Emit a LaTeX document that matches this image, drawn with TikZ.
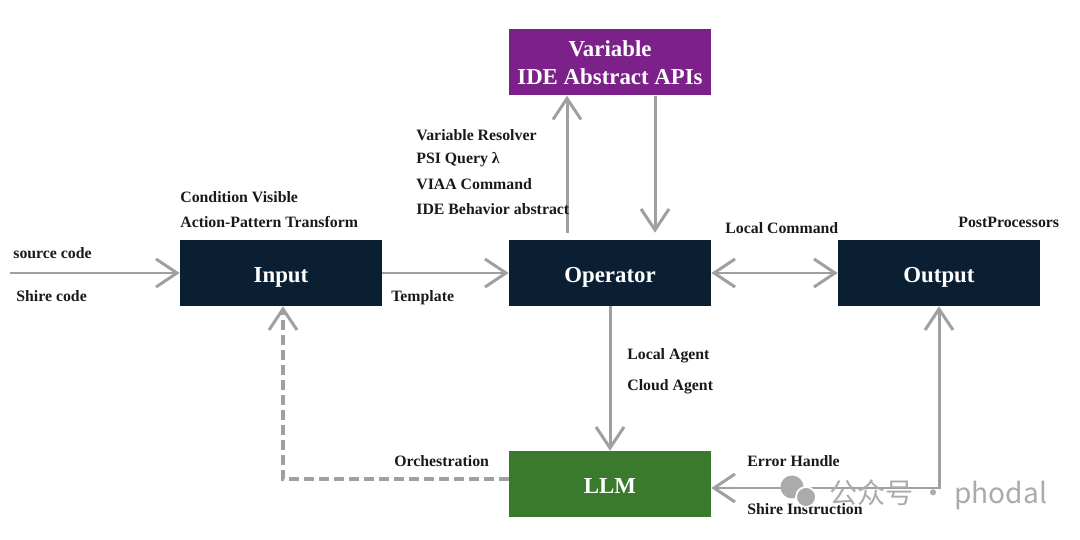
\documentclass[tikz,border=0pt]{standalone}
\usepackage{fontspec}
\usetikzlibrary{positioning,arrows.meta}
\setmainfont{Liberation Serif}
\newfontfamily\cjkfont{Noto Sans CJK SC}
\definecolor{navybox}{HTML}{0B1F33}
\definecolor{purplebox}{HTML}{7B2189}
\definecolor{greenbox}{HTML}{3A7A2C}
\definecolor{arrowgray}{HTML}{A0A0A0}
\definecolor{markgray}{HTML}{ABABAB}
\begin{document}
\begin{tikzpicture}[font=\bfseries\fontsize{9}{11}\selectfont,box/.style={minimum width=4.04cm,minimum height=1.32cm,align=center,text=white,inner sep=2pt,text height=1.05em,text depth=0pt,font=\bfseries\fontsize{13}{15}\selectfont},lbl/.style={anchor=west,inner sep=0pt,text=black!90},link/.style={draw=arrowgray,line width=1.7pt,-{Straight Barb[length=4.2mm,width=5.6mm,line width=1.7pt]}}]
\useasboundingbox (0,0) rectangle (21.6,10.8);
% boxes
\node[box,fill=navybox] (input) at (5.62,5.34) {Input};
\node[box,fill=navybox] (operator) at (12.2,5.34) {Operator};
\node[box,fill=navybox] (output) at (18.78,5.34) {Output};
\node[box,fill=purplebox,text height=,text depth=,font=\bfseries\fontsize{13}{16}\selectfont] (variable) at (12.2,9.55) {Variable\\IDE Abstract APIs};
\node[box,fill=greenbox] (llm) at (12.2,1.12) {LLM};
\coordinate (src) at (0.2,5.34);
% connectors
\foreach \a/\b in {src/input,input/operator,operator/llm}{\draw[link] (\a) -- (\b);}
\draw[link] ([xshift=-0.86cm,yshift=0.14cm]operator.north) -- ([xshift=-0.86cm]variable.south);
\draw[link] ([xshift=0.9cm]variable.south) -- ([xshift=0.9cm,yshift=0.14cm]operator.north);
\draw[link,{Straight Barb[length=4.2mm,width=5.6mm,line width=1.7pt]}-{Straight Barb[length=4.2mm,width=5.6mm,line width=1.7pt]}] (operator) -- (output);
\draw[link,line width=2pt,dash pattern=on 0.2cm off 0.1cm] ([yshift=0.1cm]llm.west) -| ([xshift=0.04cm]input.south);
\draw[link,{Straight Barb[length=4.2mm,width=5.6mm,line width=1.7pt]}-{Straight Barb[length=4.2mm,width=5.6mm,line width=1.7pt]}] ([yshift=-0.08cm]llm.east) -| (output.south);
% labels
\node[lbl] (condvis) at (3.6,6.86) {Condition Visible};
\node[lbl] (actpat) at (3.6,6.36) {Action-Pattern Transform};
\node[lbl] (srccode) at (0.26,5.74) {source code};
\node[lbl] (shirecode) at (0.32,4.88) {Shire code};
\node[lbl] (template) at (7.82,4.84) {Template};
\node[lbl] (varres) at (8.32,8.1) {Variable Resolver};
\node[lbl] (psiq) at (8.32,7.6) {PSI Query λ};
\node[lbl] (viaa) at (8.32,7.12) {VIAA Command};
\node[lbl] (idebeh) at (8.32,6.62) {IDE Behavior abstract};
\node[lbl] (localcmd) at (14.5,6.24) {Local Command};
\node[lbl] (postproc) at (19.16,6.36) {PostProcessors};
\node[lbl] (localag) at (12.54,3.68) {Local Agent};
\node[lbl] (cloudag) at (12.54,3.06) {Cloud Agent};
\node[lbl] (orch) at (7.88,1.58) {Orchestration};
\node[lbl] (errh) at (14.94,1.58) {Error Handle};
\node[lbl] (shireins) at (14.94,0.62) {Shire Instruction};
% watermark
\fill[markgray] (15.84,1.06) circle (0.23);
\fill[markgray,draw=white,line width=1pt] (16.12,0.86) circle (0.2);
\node[lbl,text=markgray,font=\cjkfont\fontsize{16}{18}\selectfont] (mark) at (16.58,0.9) {公众号 · phodal};
\end{tikzpicture}
\end{document}
